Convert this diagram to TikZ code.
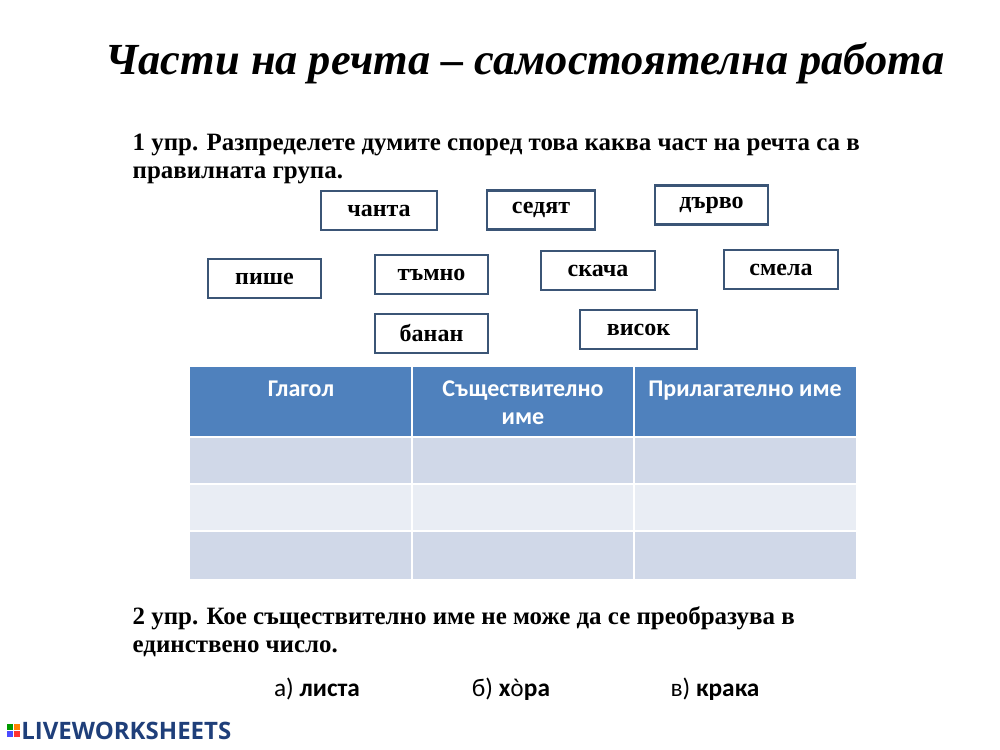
\documentclass[tikz,border=0pt]{standalone}
\usepackage{fontspec}
\setmainfont{Liberation Serif}
\newfontfamily\calfnt{Carlito}
\newfontfamily\logofnt{Open Sans}
\newfontfamily\notofnt{Noto Sans}
\definecolor{bord}{HTML}{3B5576}
\definecolor{head}{HTML}{4F81BD}
\definecolor{rowa}{HTML}{D0D8E8}
\definecolor{rowb}{HTML}{E9EDF4}
\definecolor{logoc}{HTML}{1F3F7A}
\tikzset{word/.style={draw=bord,line width=1.8pt,fill=white,minimum height=29pt,inner sep=0pt,font=\fontsize{18}{21}\selectfont\bfseries},
cell/.style={draw=white,line width=1.2pt}}
\begin{document}
\begin{tikzpicture}[x=0.75pt,y=-0.75pt]
\useasboundingbox (0,0) rectangle (1000,750);
\node[font=\fontsize{33.3}{36}\selectfont\bfseries\itshape] (title) at (525,63) {Части на речта – самостоятелна работа};
\node[anchor=west,font=\fontsize{18.7}{22}\selectfont\bfseries,align=left] (q1) at (128,159) {1 упр. Разпределете думите според това каква част на речта са в\\[-1pt]правилната група.};
\foreach \n/\a/\b/\y/\t in {w1/321/437/209.5/чанта, w2/487/595/209/седят, w3/655/768/204/дърво, w4/208/321/277.5/пише, w5/375/488/273.5/тъмно, w6/541/655/269.5/скача, w7/724/838/268.5/смела, w8/375/488/332.5/банан, w9/580/697/328.5/висок}
  \node[word,minimum width={(\b-\a)*0.75pt}] (\n) at ({(\a+\b)/2},\y+1) {\t};
% table
\fill[head] (190,367) rectangle (856,437);
\fill[rowa] (190,437) rectangle (856,484);
\fill[rowb] (190,484) rectangle (856,531);
\fill[rowa] (190,531) rectangle (856,579);
\foreach \y in {437,484,531} \draw[cell] (190,\y) -- (856,\y);
\foreach \x in {412,634} \draw[cell] (\x,367) -- (\x,579);
\node[font=\calfnt\fontsize{18}{21}\selectfont\bfseries,text=white,anchor=north] (h1) at (301,376) {Глагол};
\node[font=\calfnt\fontsize{18}{21}\selectfont\bfseries,text=white,anchor=north,align=center] (h2) at (523,376) {Съществително\\име};
\node[font=\calfnt\fontsize{18}{21}\selectfont\bfseries,text=white,anchor=north] (h3) at (745,376) {Прилагателно име};
\node[anchor=west,font=\fontsize{18.7}{22}\selectfont\bfseries,align=left] (q2) at (128,632) {2 упр. Кое съществително име не може да се преобразува в\\[-1pt]единствено число.};
\node[font=\calfnt\fontsize{19}{22}\selectfont] (a1) at (317,689) {а) \textbf{листа}};
\node[font=\calfnt\fontsize{19}{22}\selectfont] (a2) at (511,689) {б) \textbf{х{\notofnt\bfseries\fontsize{17}{20}\selectfont о̀}ра}};
\node[font=\calfnt\fontsize{19}{22}\selectfont] (a3) at (715,689) {в) \textbf{крака}};
% logo
\fill[green!60!black] (7,724) rectangle (13,730);
\fill[orange] (14,724) rectangle (20,730);
\fill[blue!70] (7,731) rectangle (13,737);
\fill[red!80] (14,731) rectangle (20,737);
\node[anchor=west,inner sep=0pt,font=\logofnt\fontsize{18}{20}\selectfont\bfseries,text=logoc] (logo) at (21,731) {LIVEWORKSHEETS};
\end{tikzpicture}
\end{document}
